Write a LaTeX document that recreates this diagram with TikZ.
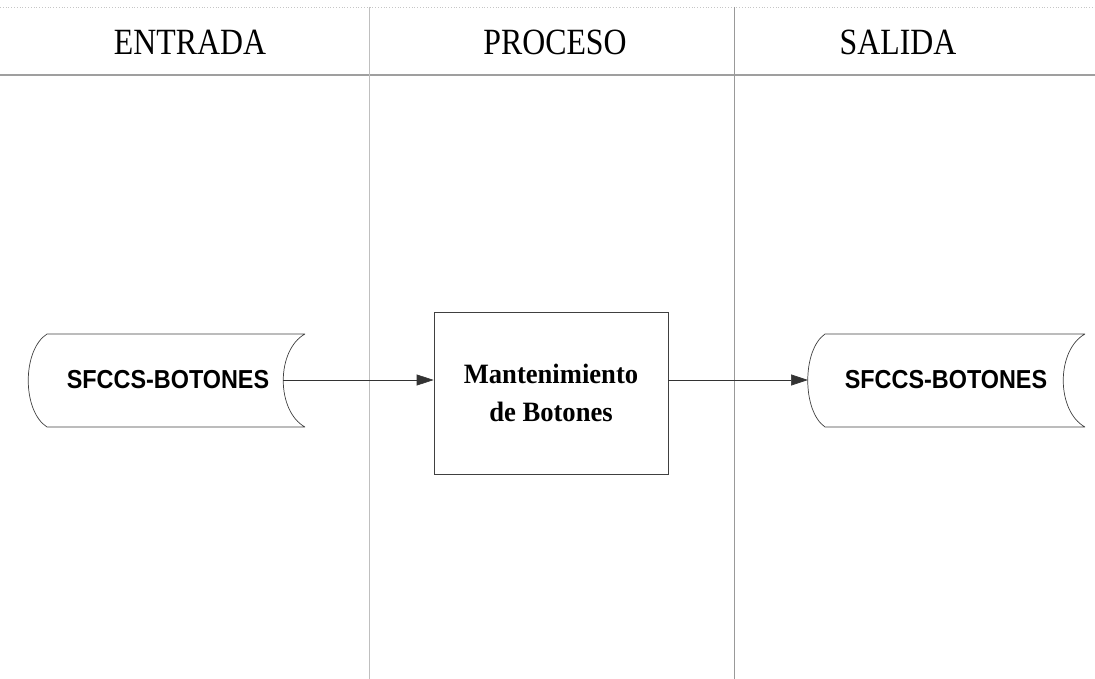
\documentclass[tikz,border=0pt]{standalone}
\usepackage{fontspec}
\setmainfont{Liberation Serif}
\newfontfamily\arialfont{Liberation Sans}
\usetikzlibrary{arrows.meta}
\newcommand{\narrow}[2]{\scalebox{#1}[1]{#2}}
\tikzset{
  header/.style={font=\fontsize{37}{40}\selectfont, inner sep=0pt},
  datatext/.style={font=\arialfont\bfseries\fontsize{26}{28}\selectfont, inner sep=0pt},
  shapeline/.style={draw=black!75, line width=0.7pt},
  procbox/.style={draw=black!75, line width=0.7pt, minimum width=234pt, minimum height=162pt, align=center,
    font=\bfseries\fontsize{28}{38}\selectfont},
  conn/.style={draw=black!80, line width=0.7pt, -{Triangle[length=17pt,width=11pt]}}
}
\begin{document}
\begin{tikzpicture}[x=1pt,y=-1pt]
\useasboundingbox (0,0) rectangle (1095,679);
% lane structure
\draw[draw=gray!45, line width=0.8pt, dotted] (0,7) -- (1095,7);
\draw[draw=gray!75, line width=1.4pt] (0,75) -- (1095,75);
\draw[draw=gray!50, line width=0.7pt] (369,7) -- (369,679);
\draw[draw=gray!80, line width=0.8pt] (734,7) -- (734,679);
% headers
\node[header] (hin) at (190,42) {\narrow{0.86}{ENTRADA}};
\node[header] (hproc) at (555,42) {\narrow{0.86}{PROCESO}};
\node[header] (hout) at (898,42) {\narrow{0.86}{SALIDA}};
% input data store
\draw[shapeline] (47,334) -- (305,334) (47,427) -- (305,427)
  (47,334) .. controls (22,350) and (22,411) .. (47,427)
  (305,334) .. controls (276,350) and (276,411) .. (305,427);
\node[datatext] (in) at (168,380) {\narrow{0.9}{SFCCS-BOTONES}};
\coordinate (inR) at (283,380);
% process
\node[procbox] (proc) at (551,393) {\narrow{0.95}{Mantenimiento}\\\narrow{0.95}{de Botones}};
% output data store
\draw[shapeline] (825,334) -- (1085,334) (825,427) -- (1085,427)
  (825,334) .. controls (802,350) and (802,411) .. (825,427)
  (1085,334) .. controls (1056,350) and (1056,411) .. (1085,427);
\node[datatext] (out) at (946,380) {\narrow{0.9}{SFCCS-BOTONES}};
\coordinate (outL) at (808,380);
% connectors
\draw[conn] (inR) -- (inR -| proc.west);
\draw[conn] (proc.east |- outL) -- (outL);
\end{tikzpicture}
\end{document}
